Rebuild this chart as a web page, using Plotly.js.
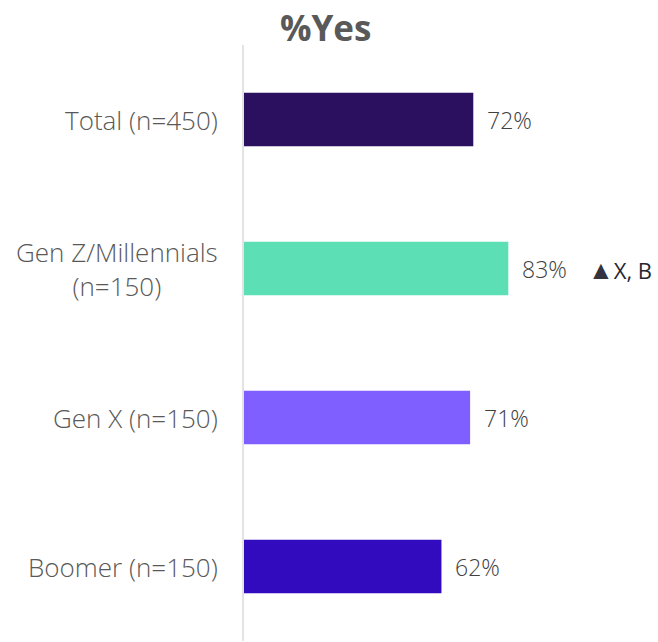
<!DOCTYPE html>
<html>
<head>
<meta charset="utf-8">
<script src="https://cdn.plot.ly/plotly-3.0.1.min.js"></script>
<style>html,body{margin:0;padding:0;background:#fff;}#chart{width:658px;height:642px;}</style>
</head>
<body>
<div id="chart"></div>
<script>
var categories = ["Total (n=450)", "Gen Z/Millennials<br>(n=150)", "Gen X (n=150)", "Boomer (n=150)"];
var values = [72, 83, 71, 62];
var valueLabels = ["72%", "83%", "71%", "62%"];
var sigNotes = ["", "X, B", "", ""];
var colors = ["#2C1060", "#5CDFB4", "#7F5FFF", "#330BBF"];

var FONT = "'Open Sans', 'Noto Sans', sans-serif";

var trace = {
  type: "bar",
  orientation: "h",
  y: categories,
  x: values,
  marker: {color: colors},
  hoverinfo: "none"
};

var annotations = [];
categories.forEach(function (c, i) {
  annotations.push({
    xref: "paper", yref: "y", x: 0, y: c,
    xanchor: "right", yanchor: "middle", xshift: -24,
    text: c, showarrow: false, align: "center",
    font: {family: FONT, size: 26, color: "#595959", weight: 300}
  });
  annotations.push({
    xref: "x", yref: "y", x: values[i], y: c,
    xanchor: "left", yanchor: "middle", xshift: 12,
    text: valueLabels[i], showarrow: false,
    font: {family: FONT, size: 23, color: "#404040", weight: 300}
  });
  if (sigNotes[i]) {
    annotations.push({
      xref: "x", yref: "y", x: values[i], y: c,
      xanchor: "left", yanchor: "middle", xshift: 78,
      text: "<span style='font-size:26px;color:#333340'>▲</span>" + sigNotes[i], showarrow: false,
      font: {family: FONT, size: 22, color: "#262633", weight: 400}
    });
  }
});

var layout = {
  width: 658, height: 642,
  margin: {l: 244, r: 0, t: 45, b: 1},
  paper_bgcolor: "#fff", plot_bgcolor: "#fff",
  title: {text: "<b>%Yes</b>", x: 0.495, xanchor: "center", y: 0.975, yanchor: "top",
          font: {family: FONT, size: 35, color: "#595959"}},
  bargap: 0.64,
  showlegend: false,
  xaxis: {range: [0, 130], showgrid: false, zeroline: false, showticklabels: false, showline: false, fixedrange: true},
  yaxis: {autorange: "reversed", showticklabels: false, showgrid: false, zeroline: false,
          showline: true, linecolor: "#e3e3e3", linewidth: 2, ticks: "", fixedrange: true},
  annotations: annotations
};

Plotly.newPlot("chart", [trace], layout, {displayModeBar: false, staticPlot: true});
</script>
</body>
</html>
